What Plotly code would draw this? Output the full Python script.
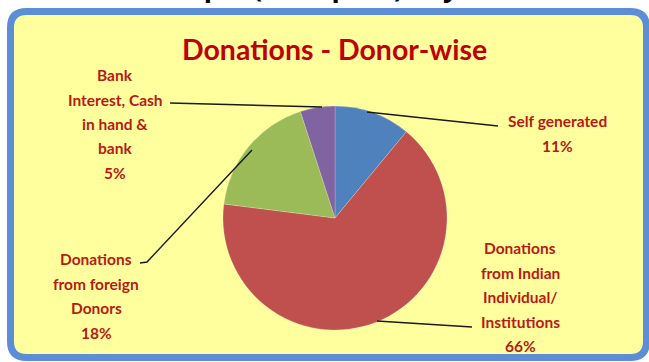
import plotly.graph_objects as go

W, H = 649, 362

# ---- data ----
categories = ["Self generated", "Donations from Indian Individual/ Institutions",
              "Donations from foreign Donors", "Bank Interest, Cash in hand & bank"]
values = [11, 66, 18, 5]
colors = ["#4F81BD", "#C0504D", "#9BBB59", "#8064A2"]
label_lines = [
    ["Self generated", "11%"],
    ["Donations", "from Indian", "Individual/", "Institutions", "66%"],
    ["Donations", "from foreign", "Donors", "18%"],
    ["Bank", "Interest, Cash", "in hand &", "bank", "5%"],
]
title_text = "Donations - Donor-wise"
top_text = "Receipts (In Rupees) in year 2011-12"

# ---- layout helpers (pixel -> paper) ----
def px(x):
    return x / W

def py(y):
    return 1 - y / H

# label anchor (center x, first line center y) in pixels
label_pos = [(557, 121), (520, 248), (96, 259), (115, 75)]
line_gap = 24.5
# leader lines in pixels
leaders = [
    [(367, 112), (498, 126)],
    [(377, 321), (472, 327)],
    [(252, 150), (147, 262), (140, 263)],
    [(322, 107), (170, 103)],
]

cx, cy, R = 335, 218, 112

fig = go.Figure()
fig.add_trace(go.Pie(
    labels=categories, values=values, sort=False, direction="clockwise", rotation=0,
    marker=dict(colors=colors, line=dict(color="rgba(255,255,255,0.35)", width=0.6)),
    textinfo="none", hoverinfo="label+percent", showlegend=False,
    domain=dict(x=[px(cx - R), px(cx + R)], y=[py(cy + R), py(cy - R)]),
))

# rounded frame
x0, y0, x1, y1, r = 10.5, 11.5, 646.5, 357.5, 16
path = (f"M {px(x0 + r)},{py(y0)} L {px(x1 - r)},{py(y0)} Q {px(x1)},{py(y0)} {px(x1)},{py(y0 + r)} "
        f"L {px(x1)},{py(y1 - r)} Q {px(x1)},{py(y1)} {px(x1 - r)},{py(y1)} "
        f"L {px(x0 + r)},{py(y1)} Q {px(x0)},{py(y1)} {px(x0)},{py(y1 - r)} "
        f"L {px(x0)},{py(y0 + r)} Q {px(x0)},{py(y0)} {px(x0 + r)},{py(y0)} Z")
shapes = [dict(type="path", path=path, xref="paper", yref="paper", layer="below",
               fillcolor="#FFFF9E", line=dict(color="#5B8ED6", width=7))]
for pts in leaders:
    p = "M " + " L ".join(f"{px(a)},{py(b)}" for a, b in pts)
    shapes.append(dict(type="path", path=p, xref="paper", yref="paper", layer="above",
                       line=dict(color="#1a1a1a", width=1.4)))

annotations = []
for (lx, ly), lines in zip(label_pos, label_lines):
    for i, t in enumerate(lines):
        annotations.append(dict(text=f"<b>{t}</b>", x=px(lx), y=py(ly + i * line_gap), xref="paper", yref="paper",
                                xanchor="center", yanchor="middle", showarrow=False,
                                font=dict(family="Lato", size=15.5, color="#B81A14")))
annotations.append(dict(text=f"<b>{title_text}</b>", x=px(334), y=py(49), xref="paper", yref="paper",
                        xanchor="center", yanchor="middle", showarrow=False,
                        font=dict(family="Lato", size=28.5, color="#C00000")))
annotations.append(dict(text=f"<b>{top_text}</b>", x=px(372), y=py(6.5), xref="paper", yref="paper",
                        xanchor="center", yanchor="bottom", showarrow=False,
                        font=dict(family="Open Sans", size=27, color="#000000")))

fig.update_layout(width=W, height=H, margin=dict(l=0, r=0, t=0, b=0),
                  paper_bgcolor="white", plot_bgcolor="white",
                  shapes=shapes, annotations=annotations)
fig.write_html("out.html")
